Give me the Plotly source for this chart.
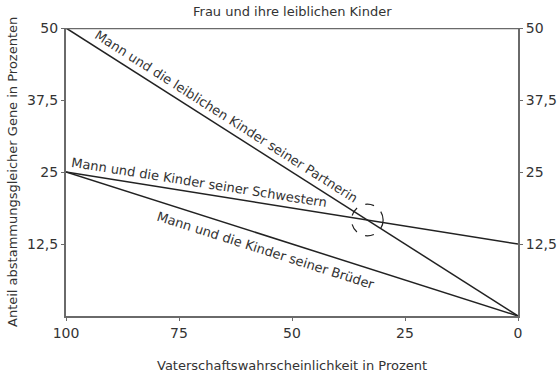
import plotly.graph_objects as go

# Data
vaterschaft = [100, 0]          # Vaterschaftswahrscheinlichkeit (%)
frau = [50, 50]                 # Frau und ihre leiblichen Kinder
partnerin = [50, 0]             # Mann und die leiblichen Kinder seiner Partnerin
schwestern = [25, 12.5]         # Mann und die Kinder seiner Schwestern
brueder = [25, 0]               # Mann und die Kinder seiner Brüder
x_ticks = [100, 75, 50, 25, 0]
y_ticks = [12.5, 25, 37.5, 50]
y_ticklabels = ["12,5", "25", "37,5", "50"]

FONT = "DejaVu Sans"
TXT = "#333333"
AX = "#6a6a6a"
LN = "#222222"

fig = go.Figure()
for ys in (partnerin, schwestern, brueder):
    fig.add_trace(go.Scatter(x=vaterschaft, y=ys, mode="lines",
                             line=dict(color=LN, width=1.5), showlegend=False, hoverinfo="skip"))
fig.add_trace(go.Scatter(x=vaterschaft, y=frau, mode="lines",
                         line=dict(color=AX, width=2.5), showlegend=False, hoverinfo="skip"))
# invisible trace for right axis
fig.add_trace(go.Scatter(x=vaterschaft, y=frau, mode="lines", yaxis="y2",
                         line=dict(color="rgba(0,0,0,0)", width=0), showlegend=False, hoverinfo="skip"))

# intersection of Partnerin & Schwestern lines
def line_coef(xs, ys):
    m = (ys[1] - ys[0]) / (xs[1] - xs[0])
    return m, ys[0] - m * xs[0]
m1, b1 = line_coef(vaterschaft, partnerin)
m2, b2 = line_coef(vaterschaft, schwestern)
xi = (b2 - b1) / (m1 - m2)
yi = m1 * xi + b1
rx, ry = 3.5, 2.75
fig.add_shape(type="circle", xref="x", yref="y", x0=xi - rx, x1=xi + rx, y0=yi - ry, y1=yi + ry,
              line=dict(color=LN, width=1.2, dash="dash"))

axis_common = dict(showgrid=False, zeroline=False, showline=True, linecolor=AX, linewidth=2,
                   ticks="outside", ticklen=3, tickcolor=AX, tickwidth=1, automargin=False,
                   tickfont=dict(family=FONT, size=14, color=TXT))

fig.update_layout(
    width=560, height=376,
    margin=dict(l=66, r=42, t=28, b=60),
    plot_bgcolor="white", paper_bgcolor="white",
    xaxis=dict(range=[100, 0], tickvals=x_ticks, ticktext=[str(v) for v in x_ticks], **axis_common),
    yaxis=dict(range=[0, 50], tickvals=y_ticks, ticktext=y_ticklabels, **axis_common),
    yaxis2=dict(range=[0, 50], tickvals=y_ticks, ticktext=y_ticklabels, overlaying="y", side="right",
                **axis_common),
    font=dict(family=FONT, size=13, color=TXT),
)

ann = [
    dict(text="Frau und ihre leiblichen Kinder", x=0.5, y=1, xref="paper", yref="paper",
         xanchor="center", yanchor="middle", yshift=17, showarrow=False, font=dict(size=13)),
    dict(text="Vaterschaftswahrscheinlichkeit in Prozent", x=0.5, y=0, xref="paper", yref="paper",
         xanchor="center", yanchor="middle", yshift=-49, showarrow=False, font=dict(size=13)),
    dict(text="Anteil abstammungsgleicher Gene in Prozenten", x=0, y=0.5, xref="paper", yref="paper",
         xanchor="center", yanchor="middle", xshift=-54, textangle=-90, showarrow=False,
         font=dict(size=13)),
    dict(text="Mann und die leiblichen Kinder seiner Partnerin", x=64.6, y=34.6, xref="x", yref="y",
         textangle=32.5, showarrow=False, font=dict(size=13)),
    dict(text="Mann und die Kinder seiner Schwestern", x=70.5, y=23.2, xref="x", yref="y",
         textangle=9.0, showarrow=False, font=dict(size=13)),
    dict(text="Mann und die Kinder seiner Brüder", x=55.8, y=11.4, xref="x", yref="y",
         textangle=17.7, showarrow=False, font=dict(size=13)),
]
fig.update_layout(annotations=ann)

fig.write_html("out.html", config={"displayModeBar": False, "staticPlot": True},
               post_script="document.body.style.margin='0';document.body.style.overflow='hidden';")
